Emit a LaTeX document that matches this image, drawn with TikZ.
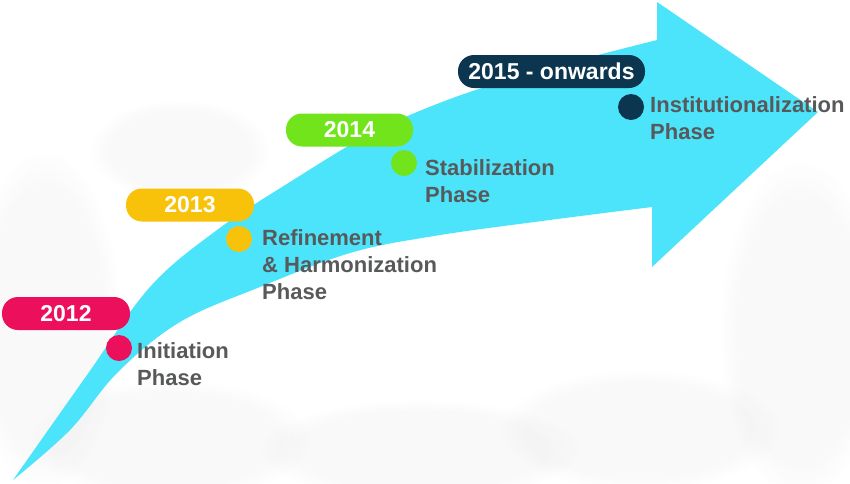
\documentclass[tikz,border=0pt]{standalone}
\usepackage{fontspec}
\setmainfont{Liberation Sans}
\usetikzlibrary{fadings}

\definecolor{arrowcyan}{HTML}{4CE4FA}
\definecolor{pinkyear}{HTML}{EC0F5C}
\definecolor{goldyear}{HTML}{F9C20A}
\definecolor{limeyear}{HTML}{72E41C}
\definecolor{navyyear}{HTML}{0C3650}
\definecolor{phasegray}{HTML}{58595B}

\begin{document}
\begin{tikzpicture}[x=1pt,y=-1pt,
  yearpill/.style={draw=none, rounded corners=16pt, minimum height=33pt,
    inner sep=0pt, text=white, font=\fontsize{23}{27}\selectfont\bfseries},
  phasedot/.style={circle, draw=none, minimum size=26pt, inner sep=0pt},
  phasetext/.style={anchor=north west, inner sep=0pt, align=left,
    text=phasegray, font=\fontsize{22}{27}\selectfont\bfseries},
  haze/.style={fill=black!40, path fading=circle with fuzzy edge 20 percent, opacity=0.05}]

\useasboundingbox (0,0) rectangle (850,483);
\fill[white] (0,0) rectangle (850,483);

% faint crowd silhouettes in the background
\fill[haze] (45,320) ellipse (75 and 170);
\fill[haze] (170,440) ellipse (140 and 60);
\fill[haze] (420,450) ellipse (160 and 50);
\fill[haze] (640,430) ellipse (140 and 60);
\fill[haze] (800,330) ellipse (80 and 170);
\fill[haze] (180,150) ellipse (90 and 50);

% the curved arrow
\fill[arrowcyan]
  plot[smooth, tension=0.6] coordinates {(13,480) (87,375) (150,287)
    (217,230) (290,182) (370,134) (450,99) (542,70) (657,40)}
  -- (657,2) -- (818,112) -- (652,267)
  -- plot[smooth, tension=0.6] coordinates {(652,207) (542,221) (434,236)
    (350,253) (260,287) (180,322) (118,372) (70,430) (13,480)}
  -- cycle;

% year labels
\node[yearpill, fill=pinkyear, minimum width=128pt] (y2012) at (66,313.5) {2012};
\node[yearpill, fill=goldyear, minimum width=128pt] (y2013) at (190,205) {2013};
\node[yearpill, fill=limeyear, minimum width=127pt] (y2014) at (349.5,130) {2014};
\node[yearpill, fill=navyyear, minimum width=187pt] (y2015) at (551.5,71.5) {2015 - onwards};

% phase markers
\node[phasedot, fill=pinkyear] (d2012) at (119,348) {};
\node[phasedot, fill=goldyear] (d2013) at (239,239) {};
\node[phasedot, fill=limeyear] (d2014) at (404,163) {};
\node[phasedot, fill=navyyear] (d2015) at (631,107) {};

% phase names
\node[phasetext] (p2012) at (137,342) {Initiation\\Phase};
\node[phasetext] (p2013) at (262,229) {Refinement\\\& Harmonization\\Phase};
\node[phasetext] (p2014) at (425,159) {Stabilization\\Phase};
\node[phasetext] (p2015) at (650,96) {Institutionalization\\Phase};

\end{tikzpicture}
\end{document}
